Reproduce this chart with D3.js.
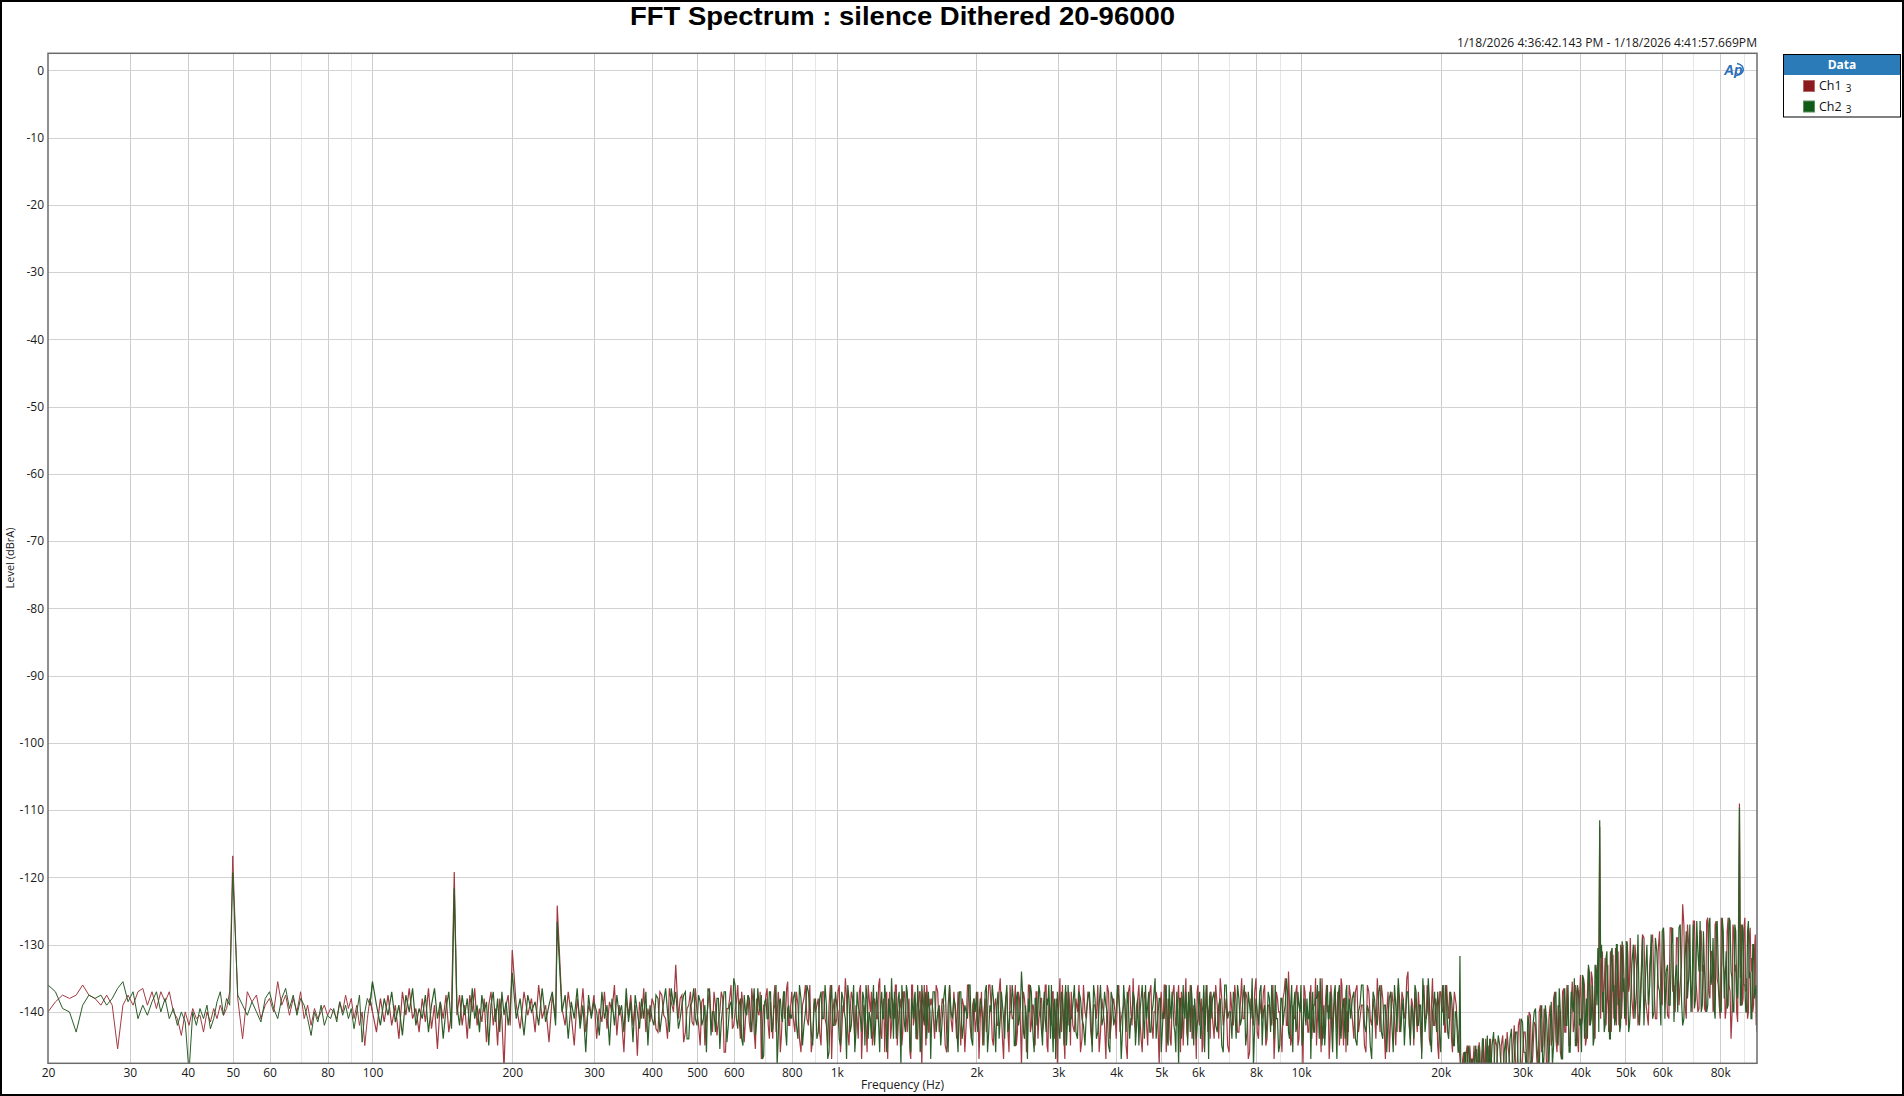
<!DOCTYPE html>
<html><head><meta charset="utf-8">
<script src="https://cdn.jsdelivr.net/npm/d3@7/dist/d3.min.js"></script>
<style>
html,body{margin:0;padding:0;background:#fff;overflow:hidden;}
svg{display:block;}
</style></head><body>
<svg id="chart" width="1904" height="1096"></svg>
<script>
// ---------------- DATA ----------------
const titleText = "FFT Spectrum : silence Dithered 20-96000";
const dateText = "1/18/2026 4:36:42.143 PM - 1/18/2026 4:41:57.669PM";
const xAxisTitle = "Frequency (Hz)";
const yAxisTitle = "Level (dBrA)";
const legendTitle = "Data";
const seriesNames = ["Ch1", "Ch2"];
const seriesSuffix = ["3", "3"];
const xTickValues = [20,30,40,50,60,80,100,200,300,400,500,600,800,1000,2000,3000,4000,5000,6000,8000,10000,20000,30000,40000,50000,60000,80000];
const xTickLabels = ["20","30","40","50","60","80","100","200","300","400","500","600","800","1k","2k","3k","4k","5k","6k","8k","10k","20k","30k","40k","50k","60k","80k"];
const xMinorGrid = [70,90,700,900,7000,9000,70000,90000];
const yTickValues = [0,-10,-20,-30,-40,-50,-60,-70,-80,-90,-100,-110,-120,-130,-140];

// main FFT bins
const freqHz = [
20,20.75,21.5,22.25,23,23.75,24.5,25.25,26,26.75,27.5,28.25,29,29.75,30.5,31.25,32,32.75,33.5,34.25,35,35.75,36.5,37.25,38,38.75,39.5,40.25,41,41.75,42.5,43.25,44,44.75,45.5,46.25,47,47.75,48.5,49.25,
50,51.25,52.5,53.75,55,56.25,57.5,58.75,60,61.25,62.5,63.75,65,66.25,67.5,68.75,70,71.25,72.5,73.75,75,76.25,77.5,78.75,80,81.25,82.5,83.75,85,86.25,87.5,88.75,90,91.25,92.5,93.75,95,96.25,97.5,98.75,
100,102,104,106,108,110,112,114,116,118,120,122,124,126,128,130,132,134,136,138,140,142,144,146,148,150,152,154,156,158,160,162,164,166,168,170,172,174,176,178,180,182,184,186,188,190,192,194,196,198,
200,204,208,212,216,220,224,228,232,236,240,244,248,250,256,260,264,268,272,276,280,284,288,292,296,300,304,308,312,316,320,324,328,332,336,340,344,348,352,356,360,364,368,372,376,380,384,388,392,396,
400,408,416,424,432,440,450,456,464,472,480,488,496,504,512,520,528,536,544,552,560,568,576,584,592,600,608,616,624,632,640,648,656,664,672,680,688,696,704,712,720,728,736,744,752,760,768,776,784,792,
800,812.5,825,837.5,850,862.5,875,887.5,900,912.5,925,937.5,950,962.5,975,987.5,1000,1012.5,1025,1037.5,1050,1062.5,1075,1087.5,1100,1112.5,1125,1137.5,1150,1162.5,1175,1187.5,1200,1212.5,1225,1237.5,1250,1262.5,1275,1287.5,1300,1312.5,1325,1337.5,1350,1362.5,1375,1387.5,1400,1412.5,1425,1437.5,1450,1462.5,1475,1487.5,1500,1512.5,1525,1537.5,1550,1562.5,1575,1587.5,
1600,1625,1650,1675,1700,1725,1750,1775,1800,1825,1850,1875,1900,1925,1950,1975,2000,2025,2050,2075,2100,2125,2150,2175,2200,2225,2250,2275,2300,2325,2350,2375,2400,2425,2450,2475,2500,2525,2550,2575,2600,2625,2650,2675,2700,2725,2750,2775,2800,2825,2850,2875,2900,2925,2950,2975,3000,3025,3050,3075,3100,3125,3150,3175,
3200,3250,3300,3350,3400,3450,3500,3550,3600,3650,3700,3750,3800,3850,3900,3950,4000,4050,4100,4150,4200,4250,4300,4350,4400,4450,4500,4550,4600,4650,4700,4750,4800,4850,4900,4950,5000,5050,5100,5150,5200,5250,5300,5350,5400,5450,5500,5550,5600,5650,5700,5750,5800,5850,5900,5950,6000,6050,6100,6150,6200,6250,6300,6350,
6400,6500,6600,6700,6800,6900,7000,7100,7200,7300,7400,7500,7600,7700,7800,7900,8000,8100,8200,8300,8400,8500,8600,8700,8800,8900,9000,9100,9200,9300,9400,9500,9600,9700,9800,9900,10000,10100,10200,10300,10400,10500,10600,10700,10800,10900,11000,11100,11200,11300,11400,11500,11600,11700,11800,11900,12000,12100,12200,12300,12400,12500,12600,12700,
12800,13000,13200,13400,13600,13800,14000,14200,14400,14600,14800,15000,15200,15400,15600,15800,16000,16200,16400,16600,16800,17000,17200,17400,17600,17800,18000,18200,18400,18600,18800,19000,19200,19400,19600,19800,20000,20200,20400,20600,20800,21000,21200,21400,21600,21800,22000,22200,22400,22600,22800,23000,23200,23400,23600,23800,24000,24200,24400,24600,24800,25000,25200,25400,
25600,26000,26400,26800,27200,27600,28000,28400,28800,29200,29600,30000,30400,30800,31200,31600,32000,32400,32800,33200,33600,34000,34400,34800,35200,35600,36000,36400,36800,37200,37600,38000,38400,38800,39200,39600,40000,40400,40800,41200,41600,42000,42400,42800,43200,43600,44000,44400,44800,45200,45600,46000,46400,46800,47200,47600,48000,48400,48800,49200,49600,50000,50400,50800,
51200,52000,52800,53600,54400,55200,56000,56800,57600,58400,59200,60000,60800,61600,62400,63200,64000,64800,65600,66400,67200,68000,68800,69600,70400,71200,72000,72800,73600,74400,75200,76000,76800,77600,78400,79200,80000,80800,81600,82400,83200,84000,84800,85600,86400,87200,88000,88800,89600,90400,91200,92000,92800,93600,94400,95200,96000
];

const ch1Level = [
-140,-138.5,-137.5,-138,-137.5,-136,-137.5,-138,-139,-137.5,-139,-145.5,-139,-137.5,-139,-137,-136.5,-139,-137,-139.5,-137,-138.5,-137,-140,-141,-143.5,-140,-142,-139.5,-141,-140.5,-143,-140,-141.5,-139.5,-141,-139,-140.5,-139.5,-137,
-116.8,-138,-144,-137,-138.5,-137.5,-141,-139,-138,-140,-135.5,-139,-137.5,-140.5,-138,-140,-137,-141,-139,-142,-139.5,-141,-140,-139,-140.5,-139.5,-140,-141,-138.5,-140,-137.5,-139.5,-138,-141,-139,-142,-140,-145,-141,-138,
-140,-143,-138,-141.5,-137.5,-142,-139,-144,-137,-140.5,-136.5,-141,-139.5,-143,-138,-141.5,-136.5,-142.5,-139,-145.5,-138.5,-141,-137.5,-143,-140,-119.2,-140.5,-137.5,-142,-139,-144,-137.5,-140,-136.5,-142,-139.5,-141.5,-138,-144.5,-139,-137,-142,-139.5,-145,-138,-141,-148.5,-139,-137.5,-142,
-130.8,-139,-142.5,-137,-140.5,-138,-143,-136,-141,-139,-144.5,-137.5,-141,-124.2,-139.5,-142,-137,-140.5,-145,-138,-141.5,-136.5,-143,-139,-140.5,-137.5,-144,-139.5,-141.5,-137,-142.5,-138.5,-140,-136,-143.5,-139,-141,-146,-138,-140.5,-137.5,-142,-139,-146.5,-138.5,-141,-136.5,-143,-139.5,-141.5,
-138,-142.5,-137,-140.5,-144,-138.5,-133,-141,-137.5,-143,-139,-141.5,-136.5,-142,-138.5,-145,-139,-141,-137,-143.5,-140,-138,-146,-139.5,-136,-142,-138.5,-140.5,-137,-144.5,-139,-141.5,-136.5,-143,-138,-140.5,-147,-139,-137.5,-142,-138.5,-144,-136,-141,-139,-143.5,-137.5,-140,-135.5,-142,
-137,-143,-139,-146,-138,-141,-136,-144,
-140,-138,-145,-137,-142,-139,-147,-138,
-141,-136,-143,-140,-138,-145,-137,-141,
-139,-144,-136,-142,-140,-146,-138,-137,
-143,-139,-141,-135,-144,-138,-140,-147,
-137,-142,-139,-136,-145,-140,-138,-143,
-137,-141,-139,-146,-136,-142,-138,-144,
-140,-137,-148,-139,-141,-136,-143,-138,
-138,-144,-137,-141,-139,-146,-136,-143,
-140,-137,-145,-139,-142,-136,-144,-138,
-141,-147,-137,-140,-143,-136,-139,-145,
-138,-142,-135,-144,-140,-137,-146,-139,
-141,-136,-143,-138,-148,-137,-140,-144,
-136,-142,-139,-145,-137,-141,-138,-143,
-140,-136,-146,-139,-142,-137,-144,-138,
-141,-135,-143,-140,-147,-137,-142,-139,
-137,-143,-140,-146,-136,-141,-138,-145,
-139,-136,-143,-140,-147,-137,-142,-138,
-144,-136,-141,-139,-145,-137,-140,-135,
-143,-138,-141,-146,-137,-142,-139,-136,
-144,-140,-138,-148,-137,-141,-136,-143,
-139,-145,-137,-140,-142,-136,-146,-138,
-141,-135,-144,-139,-137,-143,-140,-147,
-136,-142,-138,-145,-140,-137,-143,-139,
-137,-144,-139,-135,-142,-138,-146,-140,
-136,-143,-139,-141,-137,-147,-138,-142,
-135,-144,-140,-137,-145,-139,-141,-136,
-143,-138,-140,-146,-137,-142,-134,-145,
-139,-141,-136,-144,-138,-148,-137,-140,
-143,-136,-141,-139,-145,-137,-142,-135,
-144,-138,-140,-147,-136,-143,-139,-141,
-137,-145,-135,-142,-138,-146,-140,-136,
-138,-144,-136,-141,-139,-146,-137,-142,
-140,-135,-143,-138,-147,-137,-141,-139,
-145,-136,-142,-138,-140,-134,-144,-139,
-137,-143,-140,-146,-136,-141,-138,-145,
-135,-142,-139,-147,-137,-140,-143,-136,
-141,-138,-146,-137,-139,-143,-147,-151,
-146,-150,-145,-153,-147,-149,-145,-152,
-148,-144.5,-151,-146,-149,-144,-150,-147,
-144,-150,-145,-152,-143.5,-149,-146,-151,
-142,-149,-141,-147,-143,-150,-140.5,-146,
-142,-149,-139,-145,-141,-148,-139,-144,
-137,-146,-140,-147,-136.5,-143,-138,-145,
-135.5,-142,-137,-146,-134.5,-141,-136,-144,
-133.5,-140,-135,-143,-133,-136,-112.5,-133,
-140,-132,-138,-143,-131,-137,-141,-130.5,
-136,-142,-130,-138,-134,-141,-129.5,-137,
-129,-141,-133,-140,-128.5,-138,-142,-130,
-136,-141,-128,-139,-134,-140.5,-127.5,-137,
-140,-129,-136,-124,-139,-127,-134,-140,
-126.5,-137,-139.5,-128,-133,-140,-126,-138,
-131,-139,-126.5,-136,-141,-127,-134,-139.5,
-126,-137,-140.5,-128,-133,-141.5,-109,-127,
-138,-126,-135,-140,-127.5,-132,-139,-128.5,
-138
];

const ch2Level = [
-136,-137,-139.5,-140,-143,-139,-137.5,-138,-137.5,-139,-138,-136.5,-135.5,-138.5,-137,-141,-139,-140.5,-138.5,-137,-140,-138,-141,-139.5,-142,-140,-141.5,-149,-140,-142,-139.5,-141,-139,-142.5,-141,-138.5,-137,-140.5,-138,-139,
-119.3,-137.5,-139,-140.5,-138.5,-140,-141.5,-138,-137,-139.5,-141,-138,-136.5,-139.5,-137.5,-140.5,-138,-139,-141,-143.5,-140,-141.5,-139,-142,-140.5,-141,-139.5,-141.5,-138.5,-140.5,-139,-141,-139.5,-142.5,-140,-137.5,-144.5,-140,-138,-139,
-135.5,-139,-142,-138,-140.5,-137,-141.5,-139,-143.5,-137.5,-140,-136.5,-142,-139.5,-141,-137.5,-143,-139,-136.5,-141,-138.5,-144,-139.5,-137,-142.5,-121.6,-139,-142,-137.5,-140.5,-138,-142.5,-136.5,-141,-139,-143,-137.5,-140,-138.5,-145,-139,-137,-141.5,-138,-143,-137,-140.5,-138.5,-142,-139.5,
-134.2,-141,-138,-143.5,-137.5,-140,-138.5,-142,-136.5,-141.5,-139,-137,-142,-126.6,-140,-137.5,-144,-138.5,-141,-136.5,-142.5,-139,-146,-137.5,-141,-138.5,-140,-143.5,-137,-141,-139,-145,-138,-142,-137.5,-140.5,-139,-143,-136.5,-141.5,-138.5,-144.5,-137.5,-140,-142.5,-138,-141,-137,-145,-139,
-141,-137.5,-143,-138.5,-140,-136.5,-137,-142.5,-139,-137,-144,-138.5,-141,-137.5,-142,-139,-136.5,-143.5,-140,-138,-145.5,-139.5,-137,-142,-138.5,-135,-141,-139,-144,-137.5,-140.5,-138,-143,-136.5,-141.5,-139,-137.5,-146.5,-138,-141,-137,-142.5,-139,-148,-138.5,-140.5,-137,-143,-139.5,-141,
-141,-137,-144,-138,-142,-136,-140,-145,
-138,-143,-137,-141,-139,-146,-136,-142,
-139,-144,-137,-140,-147,-138,-142,-136,
-143,-139,-141,-137,-145,-138,-140,-144,
-136,-142,-139,-146,-137,-141,-138,-143,
-140,-135,-144,-139,-141,-137,-148,-138,
-142,-136,-140,-145,-138,-141,-137,-143,
-139,-146,-136,-141,-138,-144,-137,-140,
-142,-137,-140,-145,-138,-143,-136,-141,
-139,-146,-137,-142,-140,-136,-144,-138,
-137,-141,-139,-145,-136,-143,-140,-138,
-146,-137,-141,-139,-144,-136,-142,-140,
-138,-145,-137,-141,-134,-143,-139,-147,
-140,-137,-144,-138,-142,-136,-141,-145,
-137,-143,-139,-140,-136,-146,-138,-142,
-139,-144,-137,-141,-138,-145,-136,-143,
-141,-136,-144,-138,-142,-140,-137,-146,
-138,-143,-136,-141,-139,-145,-137,-142,
-140,-138,-147,-136,-143,-139,-141,-137,
-145,-138,-140,-136,-144,-141,-137,-143,
-139,-135,-142,-138,-146,-140,-137,-144,
-136,-141,-139,-143,-137,-148,-138,-142,
-140,-137,-145,-139,-136,-142,-138,-144,
-141,-137,-143,-139,-146,-136,-140,-138,
-141,-137,-143,-138,-146,-136,-140,-144,
-139,-136,-142,-138,-145,-137,-141,-148,
-138,-142,-136,-140,-144,-137,-143,-139,
-136,-141,-145,-138,-140,-135,-143,-139,
-146,-137,-142,-139,-136,-144,-140,-138,
-141,-147,-137,-143,-138,-140,-135,-145,
-139,-142,-136,-141,-138,-146,-137,-143,
-140,-136,-144,-139,-142,-137,-145,-138,
-141,-137,-145,-139,-136,-143,-140,-147,
-138,-142,-136,-144,-139,-141,-137,-146,
-139,-135,-143,-138,-141,-137,-145,-140,
-136,-142,-139,-147,-138,-141,-135,-144,
-140,-137,-143,-139,-146,-136,-141,-138,
-144,-137,-140,-145,-140,-146,-131.7,-148,
-152,-146,-149,-145.5,-151,-147,-150,-145,
-149,-146,-152,-144,-148,-150,-143.5,-149,
-150,-143,-148,-145,-152,-144,-149,-142.5,
-147,-143,-151,-141.5,-146,-140.5,-149,-142,
-139.5,-147,-141,-150,-139,-145,-142,-148,
-138,-144,-136.5,-147,-139,-142,-136,-146,
-139,-135,-145,-137,-141,-134.5,-144,-138,
-133,-142,-136,-144,-134,-130.5,-111.5,-130,
-137,-142,-131,-139,-144,-130.5,-136,-141,
-130,-138,-142,-129.5,-135,-140,-130,-143,
-140,-130,-137,-142,-129,-135,-139,-128.5,
-140,-131,-137,-128,-141,-133,-139,-127.5,
-135,-140,-127,-142,-132,-138,-127,-136,
-139.5,-126.5,-134,-140,-128,-137,-139,-126,
-135,-139.5,-127.5,-133,-140,-126,-138,-131,
-139,-126.5,-135,-140,-128,-138,-109.6,-139,
-128,-136,-140,-126.5,-134,-141,-130,-137,
-143
];

// in-between FFT bins of the dense part (400 Hz upward)
const freqHzMid = [
404,412,420,428,436,445,460,468,476,484,492,500,508,516,524,532,540,548,556,564,572,580,588,596,604,612,620,628,636,644,652,660,668,676,684,692,700,708,716,724,732,740,748,756,764,772,780,788,796,
806.25,818.75,831.25,843.75,856.25,868.75,881.25,893.75,906.25,918.75,931.25,943.75,956.25,968.75,981.25,993.75,1006.25,1018.75,1031.25,1043.75,1056.25,1068.75,1081.25,1093.75,1106.25,1118.75,1131.25,1143.75,1156.25,1168.75,1181.25,1193.75,1206.25,1218.75,1231.25,1243.75,1256.25,1268.75,1281.25,1293.75,1306.25,1318.75,1331.25,1343.75,1356.25,1368.75,1381.25,1393.75,1406.25,1418.75,1431.25,1443.75,1456.25,1468.75,1481.25,1493.75,1506.25,1518.75,1531.25,1543.75,1556.25,1568.75,1581.25,1593.75,
1612.5,1637.5,1662.5,1687.5,1712.5,1737.5,1762.5,1787.5,1812.5,1837.5,1862.5,1887.5,1912.5,1937.5,1962.5,1987.5,2012.5,2037.5,2062.5,2087.5,2112.5,2137.5,2162.5,2187.5,2212.5,2237.5,2262.5,2287.5,2312.5,2337.5,2362.5,2387.5,2412.5,2437.5,2462.5,2487.5,2512.5,2537.5,2562.5,2587.5,2612.5,2637.5,2662.5,2687.5,2712.5,2737.5,2762.5,2787.5,2812.5,2837.5,2862.5,2887.5,2912.5,2937.5,2962.5,2987.5,3012.5,3037.5,3062.5,3087.5,3112.5,3137.5,3162.5,3187.5,
3225,3275,3325,3375,3425,3475,3525,3575,3625,3675,3725,3775,3825,3875,3925,3975,4025,4075,4125,4175,4225,4275,4325,4375,4425,4475,4525,4575,4625,4675,4725,4775,4825,4875,4925,4975,5025,5075,5125,5175,5225,5275,5325,5375,5425,5475,5525,5575,5625,5675,5725,5775,5825,5875,5925,5975,6025,6075,6125,6175,6225,6275,6325,6375,
6450,6550,6650,6750,6850,6950,7050,7150,7250,7350,7450,7550,7650,7750,7850,7950,8050,8150,8250,8350,8450,8550,8650,8750,8850,8950,9050,9150,9250,9350,9450,9550,9650,9750,9850,9950,10050,10150,10250,10350,10450,10550,10650,10750,10850,10950,11050,11150,11250,11350,11450,11550,11650,11750,11850,11950,12050,12150,12250,12350,12450,12550,12650,12750,
12900,13100,13300,13500,13700,13900,14100,14300,14500,14700,14900,15100,15300,15500,15700,15900,16100,16300,16500,16700,16900,17100,17300,17500,17700,17900,18100,18300,18500,18700,18900,19100,19300,19500,19700,19900,20100,20300,20500,20700,20900,21100,21300,21500,21700,21900,22100,22300,22500,22700,22900,23100,23300,23500,23700,23900,24100,24300,24500,24700,24900,25100,25300,25500,
25800,26200,26600,27000,27400,27800,28200,28600,29000,29400,29800,30200,30600,31000,31400,31800,32200,32600,33000,33400,33800,34200,34600,35000,35400,35800,36200,36600,37000,37400,37800,38200,38600,39000,39400,39800,40200,40600,41000,41400,41800,42200,42600,43000,43400,43800,44200,44600,45000,45400,45800,46200,46600,47000,47400,47800,48200,48600,49000,49400,49800,50200,50600,51000,
51600,52400,53200,54000,54800,55600,56400,57200,58000,58800,59600,60400,61200,62000,62800,63600,64400,65200,66000,66800,67600,68400,69200,70000,70800,71600,72400,73200,74000,74800,75600,76400,77200,78000,78800,79600,80400,81200,82000,82800,83600,84400,85200,86000,86800,87600,88400,89200,90000,90800,91600,92400,93200,94000,94800,95600
];

const ch1LevelMid = [
-139,-143,-137.5,-141,-136.5,-140,-138,-144.5,-139.5,-137,
-142,-140,-145,-138,-141,-136.5,-143,-139,-141.5,-137,
-146,-139.5,-138,-142.5,-140,-136,-144,-139,-141,-137.5,
-143,-138.5,-145.5,-140,-137,-142,-139,-136.5,-144,-141,
-138,-143,-137,-146,-139.5,-141,-136.5,-142,-139,
-141,-137,-144,-139,-136,-142,-146,-138,
-139,-143,-137,-141,-145,-136,-140,-142,
-137,-146,-139,-135,-143,-140,-138,-144,
-141,-137,-147,-139,-142,-136,-140,-145,
-138,-141,-136,-143,-139,-146,-137,-140,
-144,-138,-141,-136,-142,-139,-145,-137,
-140,-143,-138,-147,-136,-141,-139,-144,
-137,-142,-140,-136,-145,-138,-143,-139,
-140,-136,-143,-138,-145,-139,-141,-137,
-144,-140,-138,-146,-136,-142,-139,-143,
-137,-141,-145,-138,-140,-136,-144,-139,
-142,-137,-140,-147,-138,-143,-136,-141,
-139,-145,-137,-142,-140,-138,-146,-136,
-143,-139,-141,-137,-144,-140,-138,-142,
-136,-145,-139,-141,-137,-143,-140,-148,
-138,-142,-136,-144,-139,-141,-137,-145,
-142,-138,-136,-144,-140,-137,-143,-139,
-141,-146,-138,-142,-136,-144,-139,-140,
-137,-143,-140,-138,-147,-136,-142,-141,
-139,-136,-144,-140,-138,-145,-137,-142,
-140,-137,-143,-139,-141,-136,-146,-138,
-144,-139,-136,-142,-138,-141,-137,-145,
-138,-143,-140,-136,-144,-139,-142,-137,
-141,-139,-146,-137,-142,-136,-140,-144,
-141,-136,-144,-138,-140,-145,-137,-142,
-139,-143,-135,-141,-138,-146,-140,-137,
-143,-138,-141,-136,-144,-139,-142,-147,
-137,-140,-143,-138,-135,-142,-139,-144,
-141,-137,-145,-139,-142,-136,-140,-143,
-138,-144,-139,-135,-141,-137,-146,-140,
-142,-136,-139,-144,-138,-141,-137,-143,
-139,-142,-136,-145,-138,-140,-143,-137,
-141,-137,-143,-139,-145,-136,-141,-138,
-144,-139,-136,-142,-140,-146,-137,-141,
-139,-143,-137,-141,-135,-142,-138,-145,
-140,-137,-143,-138,-141,-136,-144,-139,
-142,-138,-145,-137,-140,-136,-143,-139,
-137,-144,-140,-138,-142,-145,-149,-147,
-151,-146,-148,-145,-150,-147,-152,-145.5,
-149,-146,-151,-144.5,-148,-150,-145,-149,
-149,-144,-151,-145,-150,-143,-148,-145.5,
-148,-142,-150,-143,-147,-140,-149,-141.5,
-147,-140,-146,-139.5,-148,-141,-145,-138,
-144,-139,-146,-137,-143,-136,-145,-138.5,
-143,-136,-144,-138,-142,-135,-145,-137,
-142,-134,-139,-144,-135,-132,-141,-131,
-136,-142,-133,-139,-143,-131.5,-138,-142,
-131,-137,-141,-130,-139,-142,-131.5,-136,
-138,-130,-142,-135,-129,-140,-133,-128.5,
-141,-131,-138,-128,-135,-141,-127.5,-136,
-129,-139,-133,-127,-141,-130,-137,-126.5,
-135,-140,-128,-134,-139.5,-126.5,-137,-131,
-140,-127,-135,-139,-126,-133,-141,-128,
-136,-144,-127,-134,-140,-126,-135,-139,
-127.5,-137,-141,-129,-134,-140,-131,-142
];

const ch2LevelMid = [
-142,-138,-140.5,-136.5,-143,-139,-141,-137.5,-144,-139,
-136.5,-142,-138.5,-141,-146,-137,-140,-143,-138,-141.5,
-137,-144.5,-139,-141,-136,-142.5,-138,-145,-140,-137.5,
-141,-139,-143.5,-136.5,-140,-147,-138.5,-141,-137,-143,
-139.5,-136,-144,-138,-141.5,-137,-145,-139,-140.5,
-138,-142,-136,-145,-140,-137,-143,-139,
-144,-138,-141,-136,-147,-139,-142,-137,
-140,-145,-138,-141,-136,-143,-139,-146,
-137,-140,-143,-138,-136,-144,-141,-139,
-145,-137,-142,-139,-141,-136,-146,-138,
-141,-139,-137,-144,-138,-142,-136,-140,
-143,-137,-141,-146,-139,-138,-144,-136,
-140,-145,-138,-142,-137,-141,-139,-147,
-137,-143,-139,-141,-136,-146,-140,-138,
-142,-137,-144,-139,-141,-136,-145,-140,
-143,-138,-141,-137,-146,-139,-136,-142,
-139,-144,-137,-141,-138,-143,-140,-136,
-145,-138,-142,-139,-137,-144,-141,-138,
-136,-141,-146,-138,-140,-137,-143,-139,
-141,-138,-136,-144,-142,-139,-147,-137,
-143,-140,-138,-145,-136,-142,-139,-141,
-139,-143,-137,-141,-145,-138,-140,-136,
-144,-139,-142,-137,-140,-146,-138,-141,
-136,-140,-143,-139,-137,-144,-141,-138,
-142,-145,-138,-141,-136,-139,-143,-140,
-137,-144,-140,-138,-143,-141,-136,-145,
-139,-137,-142,-146,-140,-138,-144,-136,
-141,-139,-137,-143,-138,-145,-140,-142,
-138,-144,-140,-136,-141,-139,-147,-137,
-138,-142,-139,-145,-136,-141,-140,-137,
-144,-138,-141,-136,-143,-139,-135,-142,
-140,-137,-145,-139,-141,-138,-136,-144,
-141,-146,-138,-142,-139,-137,-144,-136,
-139,-143,-137,-140,-145,-138,-142,-141,
-137,-140,-143,-138,-136,-144,-139,-142,
-145,-138,-141,-137,-143,-140,-136,-147,
-137,-143,-140,-138,-144,-136,-141,-139,
-138,-144,-140,-136,-142,-139,-145,-137,
-141,-137,-143,-139,-146,-138,-142,-136,
-143,-138,-140,-145,-137,-141,-139,-144,
-137,-142,-139,-135,-143,-140,-138,-146,
-139,-141,-137,-144,-138,-142,-136,-143,
-141,-138,-145,-140,-143,-146,-150,-148,
-146,-151,-145,-149,-147,-152,-146,-150,
-145,-150,-147,-144,-151,-146,-149,-144,
-145,-151,-143.5,-149,-146,-152,-144,-150,
-143,-149,-141,-146,-150,-142,-147,-140,
-145,-149,-139,-146,-141,-148,-138.5,-145,
-137,-145,-140,-147,-136.5,-142,-146,-137,
-140,-145,-136,-142,-146,-135,-141,-144,
-134,-141,-145,-133,-139,-143,-132,-140,
-143,-132,-138,-144,-131,-137,-142,-130,
-139,-143,-131,-137,-141,-129.5,-138,-142,
-133,-141,-128.5,-137,-142,-130,-136,-141,
-129,-136,-142,-127.5,-134,-139,-130,-141.5,
-133,-127.5,-138,-141,-128,-135,-140,-127,
-138,-131,-126.5,-139,-134,-140,-127,-136,
-129,-141,-126.5,-137,-140,-128,-135,-139.5,
-126,-134,-140,-127,-137,-133,-139,-127,
-136,-140,-128,-135,-141,-130,-138,-136
];

const seriesMain = [ch1Level, ch2Level];
const seriesMid = [ch1LevelMid, ch2LevelMid];
const seriesColors = ["#a23a42", "#2a5e26"];
const legendColors = ["#8c1a1c", "#0f5a16"];
const denseFromHz = 98.75;

if (ch1Level.length !== freqHz.length || ch2Level.length !== freqHz.length ||
    ch1LevelMid.length !== freqHzMid.length || ch2LevelMid.length !== freqHzMid.length) {
  throw new Error("length mismatch freq=" + freqHz.length + " ch1=" + ch1Level.length + " ch2=" + ch2Level.length +
    " mid=" + freqHzMid.length + " ch1m=" + ch1LevelMid.length + " ch2m=" + ch2LevelMid.length);
}

// ---------------- LAYOUT ----------------
const W = 1904, H = 1096;
const P = {left: 48, right: 1757, top: 53.3, bottom: 1063.3};
const uiFont = "'Segoe UI','Open Sans','Noto Sans',sans-serif";

const svg = d3.select("#chart");
const x = d3.scaleLog().domain([20, 96000]).range([P.left, P.right]);
const y = d3.scaleLinear().domain([2.53, -147.64]).range([P.top, P.bottom]);
const px = v => Math.round(v) + 0.5;

svg.append("rect").attr("width", W).attr("height", H).attr("fill", "#fff");

// grid
const grid = svg.append("g").attr("shape-rendering", "crispEdges");
grid.selectAll("line.minor").data(xMinorGrid).join("line")
  .attr("x1", d => px(x(d))).attr("x2", d => px(x(d)))
  .attr("y1", P.top).attr("y2", P.bottom)
  .attr("stroke", "#e6e6e6").attr("stroke-width", 1);
grid.selectAll("line.vmaj").data(xTickValues.slice(1)).join("line")
  .attr("x1", d => px(x(d))).attr("x2", d => px(x(d)))
  .attr("y1", P.top).attr("y2", P.bottom)
  .attr("stroke", "#cdcdcd").attr("stroke-width", 1);
grid.selectAll("line.h").data(yTickValues).join("line")
  .attr("x1", P.left).attr("x2", P.right)
  .attr("y1", d => px(y(d))).attr("y2", d => px(y(d)))
  .attr("stroke", "#d2d2d2").attr("stroke-width", 1);

// traces
svg.append("clipPath").attr("id", "plotclip").append("rect")
  .attr("x", P.left).attr("y", P.top).attr("width", P.right - P.left).attr("height", P.bottom - P.top);
const line = d3.line().x(d => x(d[0])).y(d => y(d[1]));
const traces = svg.append("g").attr("clip-path", "url(#plotclip)");
seriesMain.forEach((lv, si) => {
  const pts = freqHz.map((f, i) => [f, lv[i]])
    .concat(freqHzMid.map((f, i) => [f, seriesMid[si][i]]))
    .sort((a, b) => a[0] - b[0]);
  traces.append("path")
    .datum(pts.filter(p => p[0] <= denseFromHz + 2))
    .attr("d", line).attr("fill", "none")
    .attr("stroke", seriesColors[si]).attr("stroke-width", 1);
  traces.append("path")
    .datum(pts.filter(p => p[0] >= denseFromHz))
    .attr("d", line).attr("fill", "none")
    .attr("stroke", seriesColors[si]).attr("stroke-width", 1.2);
});

// frame
svg.append("rect")
  .attr("x", P.left).attr("y", P.top).attr("width", P.right - P.left).attr("height", P.bottom - P.top)
  .attr("fill", "none").attr("stroke", "#6b6b6b").attr("stroke-width", 1.5);

// axes
const xAxis = d3.axisBottom(x).tickValues(xTickValues)
  .tickFormat((d, i) => xTickLabels[i]).tickSize(0).tickPadding(5);
const gx = svg.append("g").attr("transform", `translate(0,${P.bottom})`).call(xAxis);
gx.select(".domain").remove();
gx.selectAll("text").attr("font-family", uiFont).attr("font-size", 12).attr("fill", "#1a1a1a");

const yAxis = d3.axisLeft(y).tickValues(yTickValues)
  .tickFormat(d => String(d)).tickSize(0).tickPadding(4);
const gy = svg.append("g").attr("transform", `translate(${P.left},0)`).call(yAxis);
gy.select(".domain").remove();
gy.selectAll("text").attr("font-family", uiFont).attr("font-size", 12).attr("fill", "#1a1a1a");

// titles
svg.append("text").attr("x", (P.left + P.right) / 2).attr("y", 24.5)
  .attr("text-anchor", "middle").attr("font-family", "'Liberation Sans',Arial,sans-serif")
  .attr("font-weight", "bold").attr("font-size", 25)
  .attr("textLength", 545).attr("lengthAdjust", "spacingAndGlyphs")
  .attr("fill", "#000").text(titleText);

svg.append("text").attr("x", P.right - 150).attr("y", 46.5)
  .attr("text-anchor", "middle").attr("font-family", uiFont).attr("font-size", 12)
  .attr("textLength", 300).attr("lengthAdjust", "spacingAndGlyphs")
  .attr("fill", "#1a1a1a").text(dateText);

svg.append("text").attr("x", (P.left + P.right) / 2).attr("y", 1089)
  .attr("text-anchor", "middle").attr("font-family", uiFont).attr("font-size", 12)
  .attr("fill", "#1a1a1a").text(xAxisTitle);

svg.append("text").attr("transform", "translate(14,558) rotate(-90)")
  .attr("text-anchor", "middle").attr("font-family", uiFont).attr("font-size", 11)
  .attr("fill", "#1a1a1a").text(yAxisTitle);

// AP logo
const logo = svg.append("g").attr("transform", "translate(1724,63)");
logo.append("text").attr("x", 0).attr("y", 11.5)
  .attr("font-family", "'Liberation Sans',Arial,sans-serif").attr("font-style", "italic")
  .attr("font-weight", "bold").attr("font-size", 14).attr("fill", "#2a6fb8").text("Ap");
logo.append("path").attr("d", "M13,0.5 A 9 6.2 0 0 1 12,12.5")
  .attr("fill", "none").attr("stroke", "#2a6fb8").attr("stroke-width", 1.6);

// legend
const lg = svg.append("g");
lg.append("rect").attr("x", 1783).attr("y", 54).attr("width", 118).attr("height", 21).attr("fill", "#2b7bb9");
lg.append("rect").attr("x", 1783.5).attr("y", 54.5).attr("width", 117).attr("height", 62.5)
  .attr("fill", "none").attr("stroke", "#000").attr("stroke-width", 1);
lg.append("text").attr("x", 1842).attr("y", 68.7).attr("text-anchor", "middle")
  .attr("font-family", uiFont).attr("font-weight", "bold").attr("font-size", 12)
  .attr("fill", "#fff").text(legendTitle);
seriesNames.forEach((name, i) => {
  const yy = 80 + i * 20.5;
  lg.append("rect").attr("x", 1803.5).attr("y", yy + 0.5).attr("width", 11).attr("height", 11)
    .attr("fill", legendColors[i]).attr("stroke", i === 0 ? "#b46a6a" : "#5a8f5a").attr("stroke-width", 1);
  const t = lg.append("text").attr("x", 1819).attr("y", yy + 10)
    .attr("font-family", uiFont).attr("font-size", 12.5).attr("fill", "#111");
  t.append("tspan").text(name);
  t.append("tspan").attr("dx", 4).attr("dy", 2).attr("font-size", 10).text(seriesSuffix[i]);
});

// outer border
svg.append("rect").attr("x", 1).attr("y", 1).attr("width", W - 2).attr("height", H - 2)
  .attr("fill", "none").attr("stroke", "#000").attr("stroke-width", 2);
</script>
</body></html>
